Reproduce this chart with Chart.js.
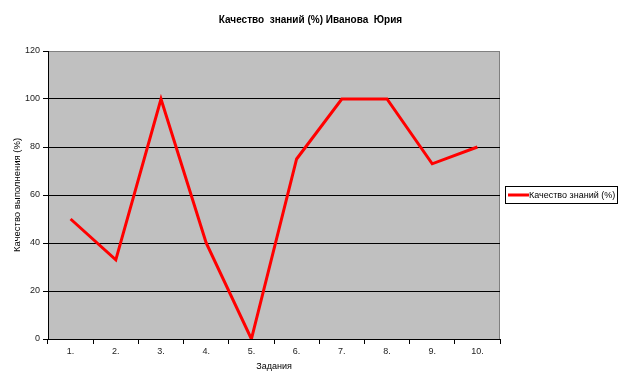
<!DOCTYPE html>
<html>
<head>
<meta charset="utf-8">
<script src="https://cdn.jsdelivr.net/npm/chart.js@4.4.1/dist/chart.umd.min.js"></script>
<style>
  html, body { margin: 0; padding: 0; background: #fff; }
  #wrap { width: 621px; height: 386px; }
</style>
</head>
<body>
<div id="wrap"><canvas id="myChart" width="621" height="386"></canvas></div>
<script>
// chart data
var chartTitle = 'Качество  знаний (%) Иванова  Юрия';
var tasks = ['1.', '2.', '3.', '4.', '5.', '6.', '7.', '8.', '9.', '10.'];
var quality = [50, 33, 100, 40, 0, 75, 100, 100, 73, 80];
var seriesName = 'Качество знаний (%)';
var yTicks = [0, 20, 40, 60, 80, 100, 120];

var fontFamily = '"Liberation Sans", Arial, sans-serif';

// grey plot background + frame
var plotBackground = {
    id: 'plotBackground',
    beforeDraw: function (chart) {
        var a = chart.chartArea, ctx = chart.ctx;
        ctx.save();
        ctx.fillStyle = '#c0c0c0';
        ctx.fillRect(a.left, a.top, a.right - a.left, a.bottom - a.top);
        ctx.strokeStyle = '#808080';
        ctx.lineWidth = 1;
        ctx.strokeRect(a.left + 0.5, a.top + 0.5, a.right - a.left - 1, a.bottom - a.top);
        ctx.restore();
    }
};

// boxed legend on the right, like excel
var boxLegend = {
    id: 'boxLegend',
    afterDraw: function (chart) {
        var ds = chart.data.datasets[0];
        var ctx = chart.ctx;
        var x = 505, y = 186, w = 112, h = 17;
        ctx.save();
        ctx.strokeStyle = '#000';
        ctx.lineWidth = 1;
        ctx.strokeRect(x + 0.5, y + 0.5, w, h);
        ctx.strokeStyle = ds.borderColor;
        ctx.lineWidth = 3;
        ctx.beginPath();
        ctx.moveTo(x + 3, y + 9);
        ctx.lineTo(x + 24, y + 9);
        ctx.stroke();
        ctx.fillStyle = '#000';
        ctx.font = '9px ' + fontFamily;
        ctx.textBaseline = 'middle';
        ctx.fillText(ds.label, x + 24, y + 9.5);
        ctx.restore();
    }
};

var ctx = document.getElementById('myChart').getContext('2d');
var qualityChart = new Chart(ctx, {
    type: 'line',
    data: {
        labels: tasks,
        datasets: [{
            label: seriesName,
            data: quality,
            borderColor: '#ff0000',
            backgroundColor: '#ff0000',
            borderWidth: 3,
            pointRadius: 0,
            tension: 0,
            fill: false
        }]
    },
    options: {
        responsive: false,
        animation: false,
        layout: { padding: 0 },
        plugins: {
            legend: { display: false },
            tooltip: { enabled: false },
            title: {
                display: true,
                text: chartTitle,
                color: '#000',
                font: { family: fontFamily, size: 10, weight: 'bold' },
                padding: { top: 14, bottom: 25 }
            }
        },
        scales: {
            x: {
                offset: true,
                grid: {
                    offset: true,
                    drawOnChartArea: false,
                    drawTicks: true,
                    tickLength: 5,
                    color: '#000'
                },
                border: { color: '#000', width: 1 },
                ticks: {
                    color: '#222',
                    padding: 2,
                    maxRotation: 0,
                    font: { family: fontFamily, size: 9 }
                },
                title: {
                    display: true,
                    text: 'Задания',
                    color: '#000',
                    font: { family: fontFamily, size: 9 },
                    padding: { top: 14, bottom: 14 }
                },
                afterFit: function (scale) { scale.height = 47; }
            },
            y: {
                min: 0,
                max: 120,
                afterBuildTicks: function (scale) {
                    scale.ticks = yTicks.map(function (v) { return { value: v }; });
                },
                grid: {
                    color: function (c) { return c.tick && c.tick.value === 120 ? '#808080' : '#000'; },
                    tickColor: '#000',
                    drawTicks: true,
                    tickLength: 5
                },
                border: { color: '#000', width: 1 },
                ticks: {
                    color: '#222',
                    padding: 3,
                    font: { family: fontFamily, size: 9 }
                },
                title: {
                    display: true,
                    text: 'Качество выполнения (%)',
                    color: '#000',
                    font: { family: fontFamily, size: 9.5 },
                    padding: { top: 12, bottom: 4 }
                },
                afterFit: function (scale) { scale.width = 48; }
            },
            // empty axis on the right just to keep room for the legend
            spacer: {
                position: 'right',
                display: true,
                grid: { display: false },
                border: { display: false },
                ticks: { display: false },
                afterFit: function (scale) { scale.width = 121; }
            }
        }
    },
    plugins: [plotBackground, boxLegend]
});
</script>
</body>
</html>
